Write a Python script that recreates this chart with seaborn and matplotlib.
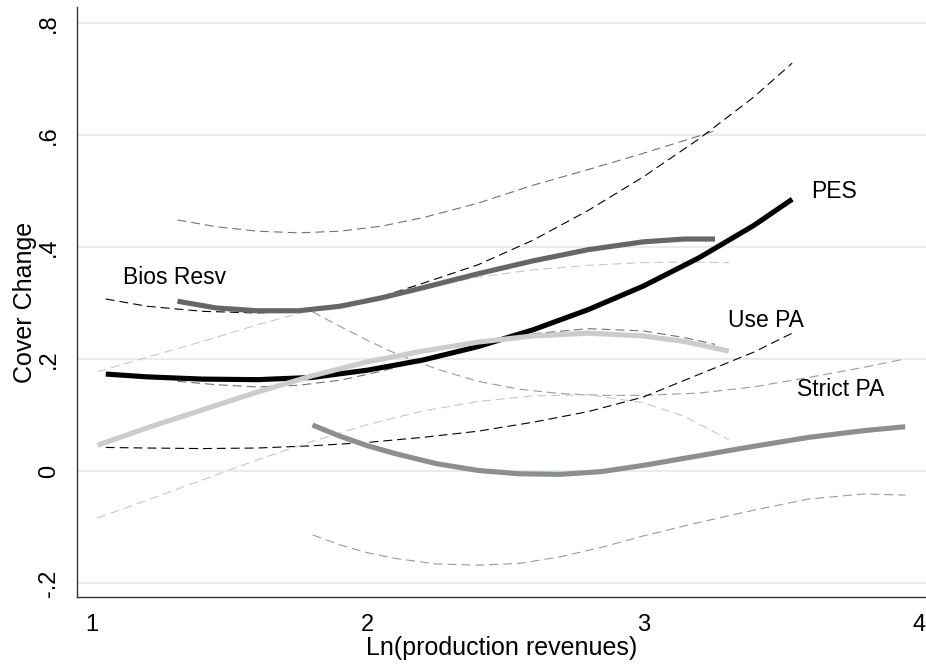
import matplotlib
matplotlib.use("Agg")
import matplotlib.pyplot as plt
import seaborn as sns
import pandas as pd

# ---- Local polynomial fits with 95% bands, by protection type ----
pes_x  = [1.05, 1.2, 1.4, 1.6, 1.8, 2.0, 2.2, 2.4, 2.6, 2.8, 3.0, 3.2, 3.4, 3.54]
pes_y  = [0.173, 0.168, 0.164, 0.163, 0.167, 0.180, 0.198, 0.222, 0.252, 0.288, 0.330, 0.380, 0.438, 0.485]
pes_hi = [0.307, 0.294, 0.285, 0.282, 0.287, 0.303, 0.335, 0.368, 0.412, 0.465, 0.525, 0.592, 0.667, 0.728]
pes_lo = [0.042, 0.041, 0.040, 0.041, 0.045, 0.051, 0.060, 0.071, 0.087, 0.106, 0.132, 0.172, 0.212, 0.246]

bios_x  = [1.31, 1.45, 1.6, 1.75, 1.9, 2.05, 2.2, 2.4, 2.6, 2.8, 3.0, 3.15, 3.26]
bios_y  = [0.303, 0.291, 0.286, 0.286, 0.294, 0.309, 0.327, 0.352, 0.375, 0.395, 0.409, 0.414, 0.414]
bios_hi = [0.448, 0.436, 0.428, 0.425, 0.428, 0.437, 0.452, 0.478, 0.510, 0.538, 0.567, 0.590, 0.607]
bios_lo = [0.160, 0.154, 0.150, 0.153, 0.162, 0.178, 0.198, 0.225, 0.245, 0.254, 0.250, 0.238, 0.226]

use_x  = [1.02, 1.2, 1.4, 1.6, 1.8, 2.0, 2.2, 2.4, 2.6, 2.8, 3.0, 3.15, 3.31]
use_y  = [0.046, 0.077, 0.109, 0.141, 0.170, 0.195, 0.214, 0.230, 0.241, 0.246, 0.241, 0.231, 0.214]
use_hi = [0.177, 0.203, 0.231, 0.261, 0.288, 0.307, 0.327, 0.346, 0.359, 0.367, 0.372, 0.373, 0.372]
use_lo = [-0.084, -0.052, -0.016, 0.020, 0.053, 0.083, 0.107, 0.124, 0.134, 0.136, 0.122, 0.097, 0.056]

strict_x  = [1.80, 1.9, 2.0, 2.1, 2.25, 2.4, 2.55, 2.7, 2.85, 3.0, 3.2, 3.4, 3.6, 3.8, 3.95]
strict_y  = [0.082, 0.062, 0.045, 0.031, 0.013, 0.001, -0.005, -0.006, -0.001, 0.010, 0.027, 0.044, 0.060, 0.072, 0.079]
strict_hi = [0.284, 0.258, 0.233, 0.210, 0.182, 0.160, 0.146, 0.138, 0.135, 0.135, 0.139, 0.150, 0.167, 0.185, 0.200]
strict_lo = [-0.114, -0.132, -0.146, -0.156, -0.166, -0.168, -0.165, -0.153, -0.136, -0.116, -0.092, -0.070, -0.050, -0.041, -0.043]

y_ticks = [-0.2, 0.0, 0.2, 0.4, 0.6, 0.8]
y_tick_labels = ["-.2", "0", ".2", ".4", ".6", ".8"]
x_ticks = [1, 2, 3, 4]
x_tick_labels = ["1", "2", "3", "4"]

series = [
    # name, x, fit, upper, lower, line colour, band colour, label position
    ("Strict PA", strict_x, strict_y, strict_hi, strict_lo, "#8e8e8e", "#9a9a9a", (3.557, 0.146)),
    ("Bios Resv", bios_x, bios_y, bios_hi, bios_lo, "#666666", "#727272", (1.112, 0.346)),
    ("PES", pes_x, pes_y, pes_hi, pes_lo, "#000000", "#000000", (3.61, 0.498)),
    ("Use PA", use_x, use_y, use_hi, use_lo, "#cccccc", "#c8c8c8", (3.307, 0.268)),
]

sns.set_style("white")
plt.rcParams["font.family"] = ["Liberation Sans", "DejaVu Sans"]

fig = plt.figure(figsize=(9.26, 6.69), dpi=100)
ax = fig.add_axes([77 / 926, 72 / 669, 849 / 926, 590 / 669])

for y in y_ticks:
    ax.axhline(y, color="#e2eef0", lw=1.4, zorder=0)

# confidence bands first (thin dashed), then the fitted curves on top
for name, xs, fit, hi, lo, col, bcol, _ in series:
    for band in (hi, lo):
        df = pd.DataFrame({"x": xs, "y": band})
        sns.lineplot(data=df, x="x", y="y", ax=ax, color=bcol, lw=0.8,
                     linestyle=(0, (8, 4.5)), zorder=2)

for name, xs, fit, hi, lo, col, bcol, pos in series:
    df = pd.DataFrame({"x": xs, "y": fit})
    sns.lineplot(data=df, x="x", y="y", ax=ax, color=col, lw=3.7,
                 solid_capstyle="butt", zorder=3)
    ax.text(pos[0], pos[1], name, fontsize=16.5, ha="left", va="center", color="black")

ax.set_xlim(0.9456, 4.0254)
ax.set_ylim(-0.2249, 0.8281)

ax.set_yticks(y_ticks)
ax.set_yticklabels(y_tick_labels)
ax.set_xticks(x_ticks)
ax.set_xticklabels(x_tick_labels)
plt.setp(ax.get_yticklabels(), rotation=90, va="center")

ax.tick_params(axis="both", which="major", direction="out", length=7, width=0.9,
               color="#404040", labelsize=17, labelcolor="black", pad=5)

for side in ("top", "right"):
    ax.spines[side].set_visible(False)
for side in ("left", "bottom"):
    ax.spines[side].set_color("#333333")
    ax.spines[side].set_linewidth(1.0)

ax.set_xlabel("Ln(production revenues)", fontsize=18, labelpad=0, color="black")
ax.set_ylabel("Cover Change", fontsize=18, labelpad=1, color="black")

fig.savefig("out.png", dpi=100)
